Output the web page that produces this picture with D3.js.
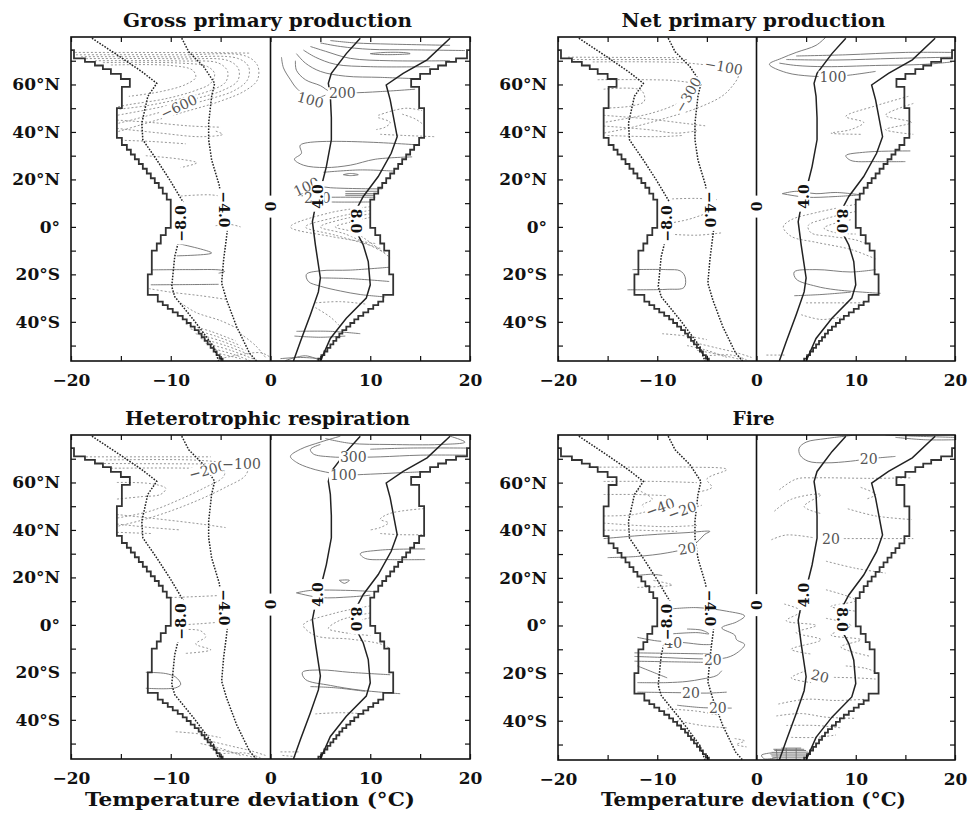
<!DOCTYPE html>
<html>
<head>
<meta charset="utf-8">
<script src="https://cdn.jsdelivr.net/npm/d3@7"></script>
<style>
  body { margin: 0; background: #fff; }
  svg text { font-family: "DejaVu Serif", serif; }
</style>
</head>
<body>
<div class="container"></div>
<script>
(function(d3) {
  "use strict";

  var xTicks = [-20, -15, -10, -5, 0, 5, 10, 15, 20];
  var xTickLabels = ["−20", "", "−10", "", "0", "", "10", "", "20"];
  var yTicks = [-50, -40, -30, -20, -10, 0, 10, 20, 30, 40, 50, 60, 70];
  var yTickLabels = ["", "40°S", "", "20°S", "", "0°", "", "20°N", "", "40°N", "", "60°N", ""];

  // outer envelope: latitude where each band starts (north to south) and its half width
  var envTop  = [80, 74.5, 71, 69.5, 68, 66.5, 64.5, 62.3, 59, 50, 37.5, 34.5, 32.5, 30.5, 28.5, 26.5, 24.5, 22.5, 20.5, 18.5, 16.5, 14, 11.5, -0.4, -3.5, -7, -10, -20, -28.6, -31.5, -33, -34.5, -36, -37.5, -39, -40.5, -42, -43.5, -45, -46.5, -48, -49.5, -51, -52.5, -54, -55.5];
  var envHalf = [21, 19.7, 18.6, 17.6, 16.8, 16.0, 15.0, 14.1, 14.9, 15.4, 14.9, 14.4, 14.0, 13.6, 13.2, 12.8, 12.4, 12.0, 11.6, 11.2, 10.8, 10.4, 10.0, 10.5, 11.0, 11.4, 11.9, 12.3, 11.3, 10.8, 10.3, 9.8, 9.3, 8.8, 8.4, 8.0, 7.6, 7.2, 6.9, 6.6, 6.3, 6.0, 5.7, 5.4, 5.1, 4.8];
  var envBottom = -57;

  // the +/-4 and +/-8 lines, [deviation, latitude]
  var warm4 = [[9.0,79.5],[7.6,73],[6.1,64.7],[5.8,60.5],[6.0,55],[6.1,46],[6.1,36.7],[5.6,25.4],[5.1,17],[4.5,8.6],[4.2,2.2],[4.5,-7.6],[5.0,-21.5],[4.8,-27.4],[4.0,-37],[3.0,-48.3],[2.3,-56.5]];
  var warm8 = [[18,79.5],[15.7,70.4],[13.3,64.7],[11.6,59.8],[12.0,53.5],[12.7,38],[12.1,31],[10.8,21.2],[9.3,12.8],[8.5,6.5],[8.6,-2],[9.3,-7.6],[9.8,-14.6],[10.0,-24.4],[9.6,-30],[7.6,-38.5],[6.0,-47],[5.0,-56.5]];
  var cold4 = [[-8.9,79.5],[-8.2,73.8],[-6.7,67.5],[-5.6,60.5],[-5.9,55],[-6.2,43.7],[-6.2,36.7],[-5.9,28.2],[-5.1,17],[-5.1,11.4],[-4.2,3],[-4.4,-4],[-4.7,-13.9],[-4.9,-23.7],[-4.4,-30.8],[-3.4,-42],[-2.1,-53.2],[-1.4,-56.5]];
  var cold8 = [[-17.9,79.5],[-15.1,71.7],[-12.9,65.4],[-11.4,60.5],[-12.3,55],[-12.9,43.7],[-12.8,36.7],[-11.4,28.2],[-10.1,19.8],[-8.7,10],[-8.8,1],[-9.6,-12.5],[-9.9,-25.1],[-9.6,-29.4],[-7.7,-39.2],[-5.7,-50.4],[-5.2,-56.5]];
  var lineLabels = [[-9.0,1.5,"−8.0",-90],[-4.7,7.3,"−4.0",90],[0,8.6,"0",90],[4.8,12.8,"4.0",-90],[8.6,2.5,"8.0",90]];

  var gppDotted = [
    [[-19.5,72.5],[-9,72.5],[-2.5,72],[-1.3,68],[-1.3,62],[-2.5,57.5],[-5,53],[-9,48],[-13,43],[-15.4,40]],
    [[-19,71.7],[-9,71.6],[-3.3,71],[-2.2,67.5],[-2.3,62],[-3.6,57.5],[-6,54],[-10,49.5],[-13.5,45.5],[-15.4,43.5]],
    [[-18.5,70.9],[-9,70.8],[-4.2,70],[-3.2,66.5],[-3.3,61.5],[-4.8,57.5],[-7.5,54],[-11,50.5],[-15.4,47]],
    [[-17.6,70],[-9,69.9],[-5.2,69],[-4.3,65.5],[-4.5,61],[-6,57.5],[-9,54],[-12.5,51],[-15.4,49.5]],
    [[-16.8,69.2],[-9,69],[-6.3,67.5],[-5.6,64.5],[-6,60.5],[-7.5,57.5],[-10.5,54],[-14.2,51.5],[-15.4,50.5]],
    [[-16,68.2],[-10,68],[-7.8,66],[-7.5,63],[-8.5,60],[-11,57],[-14.2,55]],
    [[-19.6,73.5],[-6,73.4],[-2,73.2]],
    [[-15.4,45],[-12,44],[-8,42.5],[-5,42]],
    [[-15.4,41.5],[-11,39.5],[-7,38],[-4.8,39],[-5.6,40.5]],
    [[-15,36.5],[-12,36],[-8.5,35]],
    [[-12.5,30],[-9,28.5],[-7.4,27],[-9,25]],
    [[-9,13],[-6,13.5],[-4.5,12.5]],
    [[-5.5,0.5],[-4,1],[-3,0]],
    [[-12.2,-26],[-10,-27.5],[-7,-29],[-4.5,-30.5]],
    [[-9,-32],[-7.5,-36],[-5,-39.5],[-3.2,-43]],
    [[-8.5,-41],[-6,-44],[-3.5,-48]],
    [[-8,-43],[-5.5,-46],[-3,-50]],
    [[-7.5,-45],[-5,-48],[-2.5,-52]],
    [[-7,-47],[-4.5,-50],[-2,-54]],
    [[-6.5,-49],[-4,-52],[-1.5,-56]],
    [[-6,-51],[-3.5,-54],[-2,-56.5]],
    [[-5.5,-53],[-3,-55.5]],
    [[-3,-45],[-1.5,-50],[-0.5,-55]],
    [[-5,-55.5],[-1,-53],[0,-55]],
    [[10.8,47],[12.3,49],[13.7,50],[15.2,49]],
    [[10.8,46],[12,44],[11.5,42],[10.6,41]],
    [[13.2,47.5],[14.5,45.5],[15.2,43.5]],
    [[11,39],[13.5,38.5],[16.5,38]],
    [[10,8.5],[6,6],[2,0],[6,-4],[10.5,-7]],
    [[10,7],[6.5,4],[3.5,0],[6.5,-3.5],[11,-9]],
    [[10,5.5],[7,3],[5,0],[7.5,-3],[11.5,-11]],
    [[10,4],[8,2],[6.5,0],[8.5,-2.5],[12,-13]],
    [[4.5,-32],[7,-31.5],[9.5,-32.5]],
    [[4.5,-34],[6,-38],[7,-42]]
  ];
  var gppSolid = [
    [[1.1,71.5],[1.3,67],[2,62],[2.6,58.5],[4,54],[5.5,55.5]],
    [[2.5,70],[2.6,66],[3.5,62],[5,59.5],[6,57],[8,56.5],[11,57],[14.5,58]],
    [[2.6,73],[3.5,69],[5,65.5],[7.5,63.5],[11,63],[14.2,62.5]],
    [[3.3,74.5],[4.5,71.5],[6.5,68.5],[10,67.5],[16,67.5]],
    [[4,76],[5.5,74],[8,71],[12,70],[18,70]],
    [[5,77.5],[7,76],[10,74.8],[14,74.6],[19.5,74.3]],
    [[6,78.5],[8.5,77.5],[12,77],[18,76.5]],
    [[10,73],[11.5,73.5],[13.5,73.4],[14,73],[12.5,72.6],[10.5,72.7],[10,73]],
    [[14.9,34.5],[3,34.5],[3.1,31],[2.4,28.5],[3.3,26],[5.5,25],[8,26],[10.5,28.5],[14.2,29.5]],
    [[5.3,23],[9,24],[12.4,23.5]],
    [[7.3,22],[8,22.5],[8.8,22],[8,21.6],[7.3,22]],
    [[11.2,16],[6,16.5],[4,17.5],[2.6,16],[2.5,14],[4,12.8],[8,12.5],[10.5,12.5]],
    [[3.5,12.5],[3.8,11],[6,10.5],[10,10.5]],
    [[7.5,15],[10.8,15]],
    [[7.5,14],[10.5,14]],
    [[7.5,13.3],[10.4,13.3]],
    [[11.9,-17],[8,-18.2],[5,-18.5],[3.6,-20],[3.8,-23],[5,-25],[7,-27],[9,-28.5],[11.5,-29.5]],
    [[5,-21.5],[8,-21.8],[11.9,-23]],
    [[2.6,-44],[6,-44],[9,-45]],
    [[2.4,-46],[5,-46.5],[7.5,-46]],
    [[1,-55.5],[3,-55],[5,-55.5]],
    [[1.5,-56.3],[3.5,-54.3],[5,-56.3]],
    [[-9.4,-6.9],[-5.9,-11],[-9.4,-12.2]],
    [[-11.9,-18.1],[-8,-18],[-5,-18.2],[-4.6,-18.8],[-5.2,-19.5]],
    [[-12,-24.4],[-8,-24.3],[-5.2,-24.2]]
  ];
  var gppLabels = [[-9.2,50.7,"−600",-25],[4.0,53.5,"100",15],[7.2,56.3,"200",0],[3.6,17,"100",-25],[4.7,12,"200",0]];

  var nppDotted = [
    [[-16.5,69.5],[-8,69.3],[-4.5,68],[-2.2,67],[-1.8,64],[-2.5,59],[-3.5,55],[-6,50],[-9,46],[-12.5,42],[-15.4,39.5]],
    [[-18.5,70.5],[-7,70.5]],
    [[-19,71.5],[-8,71.3]],
    [[-16,62],[-11,62],[-8,61.5],[-6.5,60],[-6.9,56],[-8,52],[-10.5,48],[-14,45],[-15.4,44]],
    [[-15.4,58],[-11.6,57.5],[-11.3,53],[-12.5,51],[-15.4,50]],
    [[-15.4,47],[-11,45.5],[-7,43.5],[-5,42.5]],
    [[-15.4,42.5],[-11,41],[-8,39.5],[-6,40.5]],
    [[-15,38.5],[-10,38],[-7.5,38.5]],
    [[-8.5,11.8],[-6,12],[-4,11.5]],
    [[-9.5,1],[-7,3],[-5.5,5],[-4.5,6.5]],
    [[-9,-3],[-6,-3.5],[-3.5,-2.5]],
    [[-9.5,-45],[-7,-46],[-5,-47.5]],
    [[-6.5,-48.5],[-4,-51],[-2,-53],[-0.5,-55]],
    [[-7,-50],[-5,-52],[-3,-55]],
    [[-6,-52],[-3.5,-54],[-1.5,-56]],
    [[-5.5,-54.5],[-2.5,-54],[-1,-56]],
    [[15.3,55],[12,51],[9,46.5],[10.8,44],[9.5,41],[7.5,39.5],[10.5,39]],
    [[15.8,52],[13,47],[15.6,44],[13,41],[15.8,39]],
    [[10,9.5],[6,6],[3.5,3],[2.7,0],[3.5,-4],[6,-6.5],[9.5,-9.5],[12,-13.5]],
    [[10,6.5],[7,3.5],[5.2,0.5],[5.5,-2.5],[7.5,-4],[10,-5.5],[11,-7]],
    [[9.5,3],[7.5,1],[6.8,-0.5],[8,-2.5],[10,-3]],
    [[5,-32],[8,-32],[11,-32]],
    [[4.5,-37],[6.5,-39],[8.5,-38]],
    [[1,-54],[3,-54]]
  ];
  var nppSolid = [
    [[12,65.5],[9.5,64],[7.7,63.3],[5.5,63.5],[3,65],[1.3,68.5],[2.5,71],[4,73.5],[6,76.5],[7,80]],
    [[2.3,69],[4,68],[7,67.5],[12,68],[17,68.5],[19.7,69.5]],
    [[3,70.5],[8,70.3],[14,71],[19.7,71.5]],
    [[4,72],[9,72.5],[15,73.5],[19.7,73.5]],
    [[15.5,32],[11,31.5],[9,30],[9.5,28],[12,27.5],[15,27.5]],
    [[2.6,14],[4,15],[6,14],[8,14.5],[10.5,13.5]],
    [[2.6,14],[5,12.5],[8,12.8],[10.5,13.5]],
    [[12,-18],[9.5,-19],[6,-18],[3.8,-19],[4,-22],[6,-25],[8,-26.5],[12.5,-28]],
    [[3.8,-29],[6.5,-28.5],[9.5,-27.5]],
    [[-12.5,-18],[-9,-18],[-7.7,-18.5],[-7.2,-21],[-7.3,-25.5],[-9,-26.3],[-13,-26.5]]
  ];
  var nppLabels = [[-3.3,67.5,"−100",10],[-6.9,55.6,"−300",-60],[7.7,63.3,"100",0]];

  var hrDotted = [
    [[-16.5,69.5],[-8,69.5],[-4.8,68.5],[-2.3,67],[-2.5,63],[-4.5,58],[-7,53],[-10,48],[-13,44],[-15.4,41.5]],
    [[-16,66],[-8,66],[-6.2,65.5],[-4.6,64.5],[-4.8,62],[-6.5,58],[-9,53],[-12,48],[-15.4,45]],
    [[-18.5,70.8],[-6,70.8]],
    [[-17.5,68],[-6,67.8]],
    [[-15.4,60],[-12,59.5],[-10.5,57.5],[-11,55],[-13,54],[-15.4,53]],
    [[-15.4,46.5],[-11,44.5],[-7,42.5],[-4.5,41]],
    [[-15.4,42.5],[-12,41],[-9,40]],
    [[-15.4,39],[-12,38.5]],
    [[-10,11.5],[-7,12],[-4.5,12.5]],
    [[-9,0],[-7,0.5],[-5.5,1]],
    [[-9,-2],[-7,-2.5],[-6.5,-5],[-7.5,-8],[-6,-10.5],[-8.5,-12]],
    [[-9.5,-45],[-7,-46],[-5,-47.5]],
    [[-6.5,-48.5],[-4,-51],[-2,-53],[-0.5,-55]],
    [[-7,-50],[-5,-52],[-3,-55]],
    [[-6,-52],[-3.5,-54],[-1.5,-56]],
    [[-5.5,-54.5],[-2.5,-54],[-1,-56]],
    [[15.4,49],[12,47],[11,44.5],[11.8,43],[11,41],[10,40]],
    [[11,38.5],[13,38],[15.5,38]],
    [[10,8],[6.5,5],[3.3,0],[4.5,-4.5],[8,-6],[11,-8],[12,-10]],
    [[10,5],[7,2],[5.8,-1.5],[7,-3],[10,-4.5]],
    [[10,3],[8.5,1],[8.3,-1]],
    [[4.5,-37.5],[7,-37],[9.5,-37.5]],
    [[1,-53.5],[3,-53.5]],
    [[1.2,-55],[2.5,-55.5]]
  ];
  var hrSolid = [
    [[7,79.5],[5,77],[3,74],[2,71],[2.6,68.5],[4,66],[6,64],[7.3,63.2],[10,63.5],[12.5,64],[15.3,64.5]],
    [[5,76],[4,74],[4.3,72],[6,70.8],[8.3,70.6],[11,70.8],[15,71.5],[19.7,71.5]],
    [[5.5,78.5],[8,76.5],[12,76],[17,76],[19.5,77],[18,79.5]],
    [[10,74],[14,74.5],[19.7,74.5]],
    [[6.9,18.8],[7.9,18.8],[7.4,17.5],[6.9,18.8]],
    [[15.5,32],[11,31.5],[9,30],[9.5,28],[12,27.5],[15.5,27.5]],
    [[2.6,13.5],[4,14.5],[8,14.5],[10.5,14]],
    [[2.6,13.5],[5,11.5],[8,11.8],[10,12.5]],
    [[12,-21],[8,-20],[5,-19],[3.2,-20],[3.5,-23],[6,-25.5],[9,-27.5],[13,-29]],
    [[4,-26],[6.5,-26.5],[9.5,-28]],
    [[-12.5,-20],[-10.5,-20.5],[-9.5,-22],[-9,-25],[-9.5,-26.5],[-12.5,-26.7]]
  ];
  var hrLabels = [[-6.3,65.3,"−200",-15],[-2.9,67.6,"−100",0],[8.3,70.7,"300",0],[7.3,63,"100",0]];

  var fireDotted = [
    [[-17,66.5],[-10,66.5],[-6.5,66.5],[-3,65.5],[-5,61.5],[-4.5,58],[-6,56]],
    [[-15.4,60.5],[-10,60.5],[-6,60]],
    [[-15.4,55],[-12,55],[-9,54.5]],
    [[-12,57],[-10.5,53],[-11.5,50.5],[-10.5,47.5]],
    [[-15.4,46],[-12.5,46.5],[-10.3,48.8],[-8.6,51]],
    [[-8.7,46.5],[-6.6,49.2],[-5.5,50.5]],
    [[-15.4,43],[-12,42],[-9,41.5],[-6,42]],
    [[-15.4,40],[-12,40],[-8,39.5]],
    [[-12,16],[-8.5,17],[-10.5,19]],
    [[-9,-35],[-6,-36],[-4,-37.5]],
    [[-8,-40],[-5.5,-42],[-3,-43]],
    [[-2.2,-47.5],[-1.2,-48.5],[-2,-50],[-1,-51]],
    [[2.3,57],[4,61.5],[6,62],[11.5,61.8],[15.5,62]],
    [[1.8,48],[3.5,53],[6.5,55],[4.8,50],[6.5,47]],
    [[10.5,58],[12,55],[11,53]],
    [[9.2,49],[12,46],[15.6,44.5]],
    [[8.8,36.5],[11,36.5],[15.8,36.5]],
    [[1.5,36],[3,38],[5.8,36.8]],
    [[7,27],[10,24],[13,22]],
    [[2.8,9],[4.5,6],[3,2],[6,0],[4,-3],[6.5,-6],[3.5,-10],[5.5,-12]],
    [[7,15],[10,10.5],[7.5,8],[10,6]],
    [[7,3],[9.5,0],[7.5,-4],[10.5,-6],[8.5,-9],[11.5,-13]],
    [[5,-19],[3.5,-22],[5.5,-24]],
    [[7.8,-21.8],[10,-22],[12,-22.5]],
    [[9,-17],[11,-18],[12.3,-20]],
    [[2.2,-33],[5,-31],[8,-31.5],[11,-31]],
    [[2,-38],[4.5,-37],[7,-38.5],[10,-39]],
    [[3,-42],[6,-42],[8.5,-43]],
    [[3.5,-47],[6,-47],[8,-46]]
  ];
  var fireSolid = [
    [[10,80],[7,78.5],[5,77],[4.3,74.5],[4.4,71.5],[5.2,69],[7,68.3],[9.5,69],[11.3,70],[14,71]],
    [[13,80],[16,79.5],[20,79]],
    [[14,79],[17,78],[20,78]],
    [[-15.4,36.5],[-11,38],[-7,39],[-4.7,39.5],[-5.2,38.3],[-6,35],[-7,32.5],[-9,30.5],[-12,29],[-15,28.5]],
    [[-12,21],[-10.5,21.5],[-9.5,21]],
    [[-8.5,7],[-6,7.5],[-3,6],[-1.2,4],[-2,1.5],[-3.5,-1],[-2.2,-4],[-2,-6],[-1.2,-8],[-1.8,-11],[-3,-13.5],[-5.8,-14],[-9,-13.5],[-12.3,-13]],
    [[-7,-1.5],[-5.5,-2],[-4.8,-3.5],[-6,-3],[-8.5,-3.5]],
    [[-12,-5],[-10,-6.5],[-7.3,-7.2],[-5.5,-8],[-4.5,-8]],
    [[-12.3,-11.5],[-7,-11.8],[-4.5,-12]],
    [[-12.3,-15],[-8,-15.3],[-5,-15.5]],
    [[-12,-17],[-10.5,-19.5],[-9,-22]],
    [[-12,-24],[-9,-24],[-7,-23.5],[-5.5,-22.5],[-4,-21],[-3.5,-19]],
    [[-12,-28],[-8.2,-28.2],[-5,-28.4],[-3,-28]],
    [[-8,-33.5],[-5.5,-34.5],[-2.5,-34.7]],
    [[1.5,-53.5],[0.5,-54.5],[0.8,-56],[2,-55.5]],
    [[2.5,-51.5],[4.5,-51.5]],
    [[1.7,-52],[4.8,-52]],
    [[1.8,-52.5],[5,-52.5]],
    [[1.5,-53.3],[5.2,-53.2]],
    [[1.4,-54],[5.3,-54]],
    [[1.5,-54.8],[5.2,-54.8]],
    [[1.6,-55.6],[5,-55.6]],
    [[2,-56.3],[4.5,-56.3]],
    [[2,-52],[2.1,-56.5]],
    [[3,-51.5],[3,-56.5]],
    [[4,-51.5],[4,-56.5]]
  ];
  var fireLabels = [[-9.7,49.6,"−40",-20],[-7.5,48.3,"−20",-20],[-7,32.3,"20",-10],[-8.4,-7.2,"40",0],[-4.4,-14.4,"20",0],[-6.6,-28.3,"20",0],[-3.9,-34.7,"20",0],[11.3,70,"20",0],[7.5,36.5,"20",0],[6.4,-21.3,"20",15]];

  var panels = [
    { title: "Gross primary production", left: 71, top: 37, w: 399, h: 324, titleW: 289, dotted: gppDotted, solid: gppSolid, labels: gppLabels },
    { title: "Net primary production", left: 558, top: 37, w: 397, h: 324, titleW: 264, dotted: nppDotted, solid: nppSolid, labels: nppLabels },
    { title: "Heterotrophic respiration", left: 71, top: 435, w: 399, h: 324, titleW: 285, dotted: hrDotted, solid: hrSolid, labels: hrLabels, xTitle: [85, 415] },
    { title: "Fire", left: 558, top: 435, w: 397, h: 325, titleW: 42, dotted: fireDotted, solid: fireSolid, labels: fireLabels, xTitle: [601, 906] }
  ];

  var svg = d3.select(".container").append("svg")
      .attr("width", 969)
      .attr("height", 818);

  panels.forEach(function(p, i) { drawPanel(p, i); });

  function envelopePoints(sign) {
    var pts = [];
    envTop.forEach(function(t, i) {
      var bottom = i < envTop.length - 1 ? envTop[i + 1] : envBottom;
      pts.push([sign * envHalf[i], t]);
      pts.push([sign * envHalf[i], bottom]);
    });
    return pts;
  }

  function drawPanel(p, idx) {
    var x = d3.scaleLinear().domain([-20, 20]).range([0, p.w]);
    var y = d3.scaleLinear().domain([-56.5, 80]).range([p.h, 0]);

    var g = svg.append("g").attr("transform", svgTranslateString(p.left, p.top));

    var clipId = "clip" + idx;
    g.append("clipPath").attr("id", clipId)
      .append("rect").attr("width", p.w).attr("height", p.h);

    var plot = g.append("g").attr("clip-path", "url(#" + clipId + ")");

    var straight = d3.line().x(function(d) { return x(d[0]); }).y(function(d) { return y(d[1]); });
    var smooth = d3.line().curve(d3.curveCatmullRom.alpha(0.5))
        .x(function(d) { return x(d[0]); }).y(function(d) { return y(d[1]); });

    plot.selectAll(".dotted").data(p.dotted).enter().append("path")
        .attr("d", smooth)
        .attr("fill", "none")
        .attr("stroke", "#8a8a8a")
        .attr("stroke-width", 0.9)
        .attr("stroke-dasharray", "2,2");

    plot.selectAll(".solid").data(p.solid).enter().append("path")
        .attr("d", smooth)
        .attr("fill", "none")
        .attr("stroke", "#6e6e6e")
        .attr("stroke-width", 0.9);

    // envelope staircase
    [1, -1].forEach(function(s) {
      plot.append("path")
          .attr("d", straight(envelopePoints(s)))
          .attr("fill", "none")
          .attr("stroke", "#333")
          .attr("stroke-width", 1.8);
    });

    [warm4, warm8].forEach(function(l) {
      plot.append("path").attr("d", straight(l))
          .attr("fill", "none").attr("stroke", "#222").attr("stroke-width", 1.5);
    });
    [cold4, cold8].forEach(function(l) {
      plot.append("path").attr("d", straight(l))
          .attr("fill", "none").attr("stroke", "#222").attr("stroke-width", 1.5)
          .attr("stroke-dasharray", "1.6,1.4");
    });

    plot.append("line")
        .attr("x1", x(0)).attr("x2", x(0))
        .attr("y1", 0).attr("y2", p.h)
        .attr("stroke", "#111").attr("stroke-width", 1.6);

    // contour labels
    p.labels.forEach(function(l) {
      addLabel(plot, x(l[0]), y(l[1]), l[2], l[3], 14, "normal", "#555", 1);
    });
    lineLabels.forEach(function(l) {
      addLabel(plot, x(l[0]), y(l[1]), l[2], l[3], 14, "bold", "#111", l[2] === "0" ? 6 : 3);
    });

    // frame
    g.append("rect")
        .attr("width", p.w).attr("height", p.h)
        .attr("fill", "none").attr("stroke", "#111").attr("stroke-width", 1.6);

    // axes
    var bottomAxis = d3.axisBottom(x).tickValues(xTicks)
        .tickFormat(function(d, i) { return xTickLabels[i]; })
        .tickSizeInner(-5).tickSizeOuter(0).tickPadding(13);
    var leftAxis = d3.axisLeft(y).tickValues(yTicks)
        .tickFormat(function(d, i) { return yTickLabels[i]; })
        .tickSizeInner(-5).tickSizeOuter(0).tickPadding(11);

    var bx = g.append("g").attr("transform", svgTranslateString(0, p.h)).call(bottomAxis);
    var lx = g.append("g").call(leftAxis);
    var tx = g.append("g").call(d3.axisTop(x).tickValues(xTicks).tickFormat("").tickSizeInner(-5).tickSizeOuter(0));
    var rx = g.append("g").attr("transform", svgTranslateString(p.w, 0))
        .call(d3.axisRight(y).tickValues(yTicks).tickFormat("").tickSizeInner(-5).tickSizeOuter(0));

    [bx, lx, tx, rx].forEach(function(a) {
      a.select(".domain").remove();
      a.selectAll(".tick line").attr("stroke", "#111").attr("stroke-width", 1.2);
      a.selectAll("text")
          .style("font-family", "DejaVu Serif, serif")
          .style("font-weight", "bold")
          .style("font-size", "17px")
          .attr("fill", "#111");
    });

    // title
    g.append("text")
        .attr("x", p.w / 2 - 3)
        .attr("y", -10)
        .attr("text-anchor", "middle")
        .attr("textLength", p.titleW)
        .attr("lengthAdjust", "spacingAndGlyphs")
        .style("font-size", "19px")
        .style("font-weight", "bold")
        .attr("fill", "#111")
        .text(p.title);

    if (p.xTitle) {
      svg.append("text")
          .attr("x", p.xTitle[0])
          .attr("y", 806)
          .attr("textLength", p.xTitle[1] - p.xTitle[0])
          .attr("lengthAdjust", "spacingAndGlyphs")
          .style("font-size", "18px")
          .style("font-weight", "bold")
          .attr("fill", "#111")
          .text("Temperature deviation (°C)");
    }
  }

  function addLabel(parent, px, py, txt, angle, size, weight, color, pad) {
    var lg = parent.append("g")
        .attr("transform", svgTranslateString(px, py) + " rotate(" + angle + ")");
    var rect = lg.append("rect").attr("fill", "#fff");
    var t = lg.append("text")
        .attr("text-anchor", "middle")
        .attr("dy", "0.36em")
        .style("font-size", size + "px")
        .style("font-weight", weight)
        .attr("fill", color)
        .text(txt);
    var b = t.node().getBBox();
    rect.attr("x", b.x - pad).attr("y", b.y + 2)
        .attr("width", b.width + 2 * pad).attr("height", b.height - 4);
  }

  function svgTranslateString(x, y) {
    return "translate(" + x + "," + y + ")";
  }

}(d3));
</script>
</body>
</html>
